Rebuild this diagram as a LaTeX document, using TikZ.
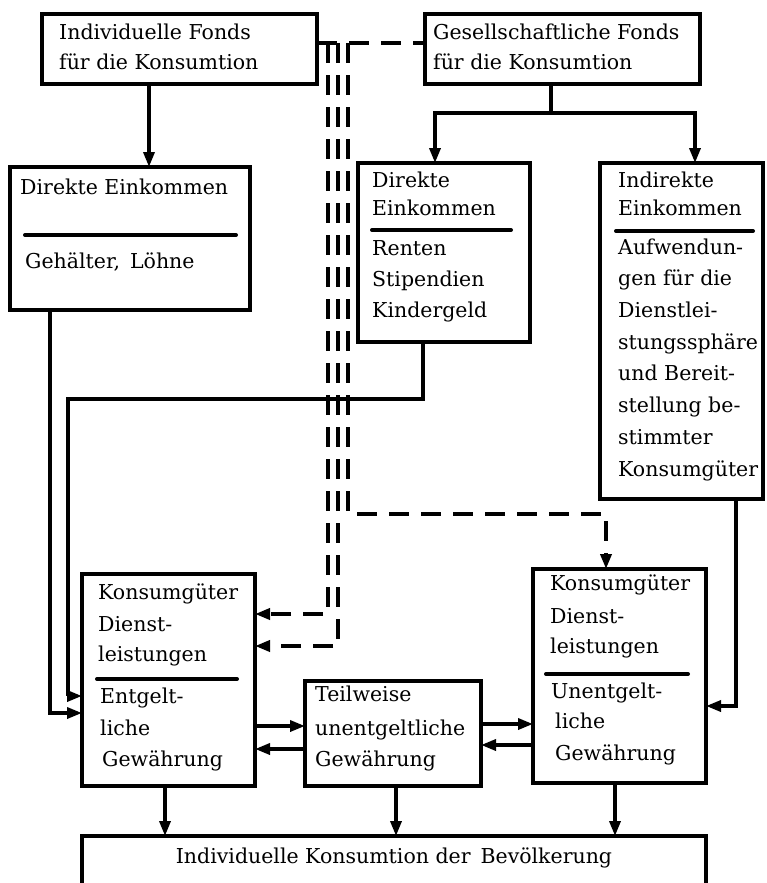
\documentclass[tikz,border=0pt]{standalone}
\usepackage{fontspec}
\setmainfont{DejaVu Serif}
\usetikzlibrary{arrows.meta}
\newcommand\dgfont{\fontsize{20.5}{24}\selectfont}
\tikzset{
  box/.style={draw, line width=3.6pt, outer sep=0pt, inner sep=0pt, anchor=north west},
  ln/.style={line width=3.4pt},
  tip/.style={-{Triangle[length=15pt,width=11pt]}},
  arr/.style={ln, tip},
  dsh/.style={line width=3.6pt, dash pattern=on 20pt off 12pt},
  rulel/.style={line width=4pt, line cap=round},
  tx/.style={anchor=mid west, inner sep=0pt, font=\dgfont},
}
\begin{document}
\begin{tikzpicture}[x=1pt,y=-1pt]
\useasboundingbox[fill=white] (0,0) rectangle (766,883);
% boxes
\node[box, minimum width=275pt, minimum height=70pt] (A) at (42,14) {};
\node[box, minimum width=275pt, minimum height=70pt] (B) at (425,14) {};
\node[box, minimum width=240pt, minimum height=143pt] (C) at (10,167) {};
\node[box, minimum width=172pt, minimum height=179pt] (D) at (358,163) {};
\node[box, minimum width=163pt, minimum height=336pt] (F) at (600,163) {};
\node[box, minimum width=173pt, minimum height=212pt] (E) at (82,574) {};
\node[box, minimum width=176pt, minimum height=105pt] (H) at (305,681) {};
\node[box, minimum width=173pt, minimum height=214pt] (G) at (533,569) {};
\node[anchor=north west, inner sep=0pt, outer sep=0pt, minimum width=624pt, minimum height=50pt] (I) at (82,836) {};
\draw[line width=3.6pt] (I.south west) -- (I.north west) -- (I.north east) -- (I.south east);
% texts
\node[tx] (a1) at (59,37) {Individuelle Fonds};
\node[tx] (a2) at (59,67) {für die Konsumtion};
\node[tx] (b1) at (433,37) {Gesellschaftliche Fonds};
\node[tx] (b2) at (433,67) {für die Konsumtion};
\node[tx] (c1) at (20,192) {Direkte Einkommen};
\node[tx] (c2) at (25,266) {Gehälter,\, Löhne};
\draw[rulel] (25,235) -- (236,235);
\node[tx] (d1) at (372,185) {Direkte};
\node[tx] (d2) at (372,213) {Einkommen};
\draw[rulel] (372,230) -- (511,230);
\node[tx] (d3) at (372,253) {Renten};
\node[tx] (d4) at (372,284) {Stipendien};
\node[tx] (d5) at (372,315) {Kindergeld};
\node[tx] (f1) at (618,185) {Indirekte};
\node[tx] (f2) at (618,213) {Einkommen};
\draw[rulel] (616,231) -- (753,231);
\node[tx] (f3) at (618,252) {Aufwendun-};
\node[tx] (f4) at (618,283) {gen für die};
\node[tx] (f5) at (618,315) {Dienstlei-};
\node[tx] (f6) at (618,347) {stungssphäre};
\node[tx] (f7) at (618,378) {und Bereit-};
\node[tx] (f8) at (618,410) {stellung be-};
\node[tx] (f9) at (618,442) {stimmter};
\node[tx] (f10) at (618,474) {Konsumgüter};
\node[tx] (e1t) at (98,597) {Konsumgüter};
\node[tx] (e2t) at (98,629) {Dienst-};
\node[tx] (e3t) at (98,659) {leistungen};
\draw[rulel] (97,679) -- (237,679);
\node[tx] (e4t) at (100,701) {Entgelt-};
\node[tx] (e5t) at (100,733) {liche};
\node[tx] (e6t) at (102,764) {Gewährung};
\node[tx] (g1t) at (550,588) {Konsumgüter};
\node[tx] (g2t) at (550,621) {Dienst-};
\node[tx] (g3t) at (550,651) {leistungen};
\draw[rulel] (546,674) -- (688,674);
\node[tx] (g4t) at (551,696) {Unentgelt-};
\node[tx] (g5t) at (555,726) {liche};
\node[tx] (g6t) at (555,758) {Gewährung};
\node[tx] (h1t) at (315,699) {Teilweise};
\node[tx] (h2t) at (315,733) {unentgeltliche};
\node[tx] (h3t) at (315,764) {Gewährung};
\node[anchor=mid, inner sep=0pt, font=\dgfont] (it) at (394,861) {Individuelle Konsumtion der\, Bevölkerung};
% coordinates
\coordinate (xa) at (149,0);
\coordinate (bs) at (551,113);
\coordinate (dl) at (435,0);
\coordinate (fr) at (695,0);
\coordinate (k1) at (50,713);
\coordinate (k2) at (423,399);
\coordinate (k3) at (68,399);
\coordinate (k4) at (0,696);
\coordinate (k5) at (736,706);
\coordinate (h1) at (0,726);
\coordinate (h2) at (0,749);
\coordinate (h3) at (0,724);
\coordinate (h4) at (0,745);
\coordinate (xb1) at (165,0);
\coordinate (xb2) at (396,0);
\coordinate (xb3) at (615,0);
\coordinate (t) at (0,43);
\coordinate (v1) at (328,43);
\coordinate (v2) at (338,43);
\coordinate (v3) at (348,43);
\coordinate (ed1) at (0,614);
\coordinate (ed2) at (0,646);
\coordinate (gd) at (606,514);
% solid connectors
\draw[arr] (A.south -| xa) -- (C.north -| xa);
\draw[ln] (B.south -| bs) -- (bs);
\draw[arr] (bs) -| (D.north -| dl);
\draw[arr] (bs) -| (F.north -| fr);
\draw[arr] (C.south -| k1) |- (E.west |- k1);
\draw[arr] (D.south -| k2) -- (k2) -- (k3) |- (E.west |- k4);
\draw[arr] (F.south -| k5) |- (G.east |- k5);
\draw[arr] (E.east |- h1) -- (H.west |- h1);
\draw[arr] (H.west |- h2) -- (E.east |- h2);
\draw[arr] (H.east |- h3) -- (G.west |- h3);
\draw[arr] (G.west |- h4) -- (H.east |- h4);
\draw[arr] (E.south -| xb1) -- (I.north -| xb1);
\draw[arr] (H.south -| xb2) -- (I.north -| xb2);
\draw[arr] (G.south -| xb3) -- (I.north -| xb3);
% dashed connectors
\draw[dsh] (A.east |- t) -- (B.west |- t);
\draw[dsh, tip] (v1) |- (E.east |- ed1);
\draw[dsh, tip] (v2) |- (E.east |- ed2);
\draw[dsh, tip] (v3) |- (gd) -- (G.north -| gd);
\end{tikzpicture}
\end{document}
